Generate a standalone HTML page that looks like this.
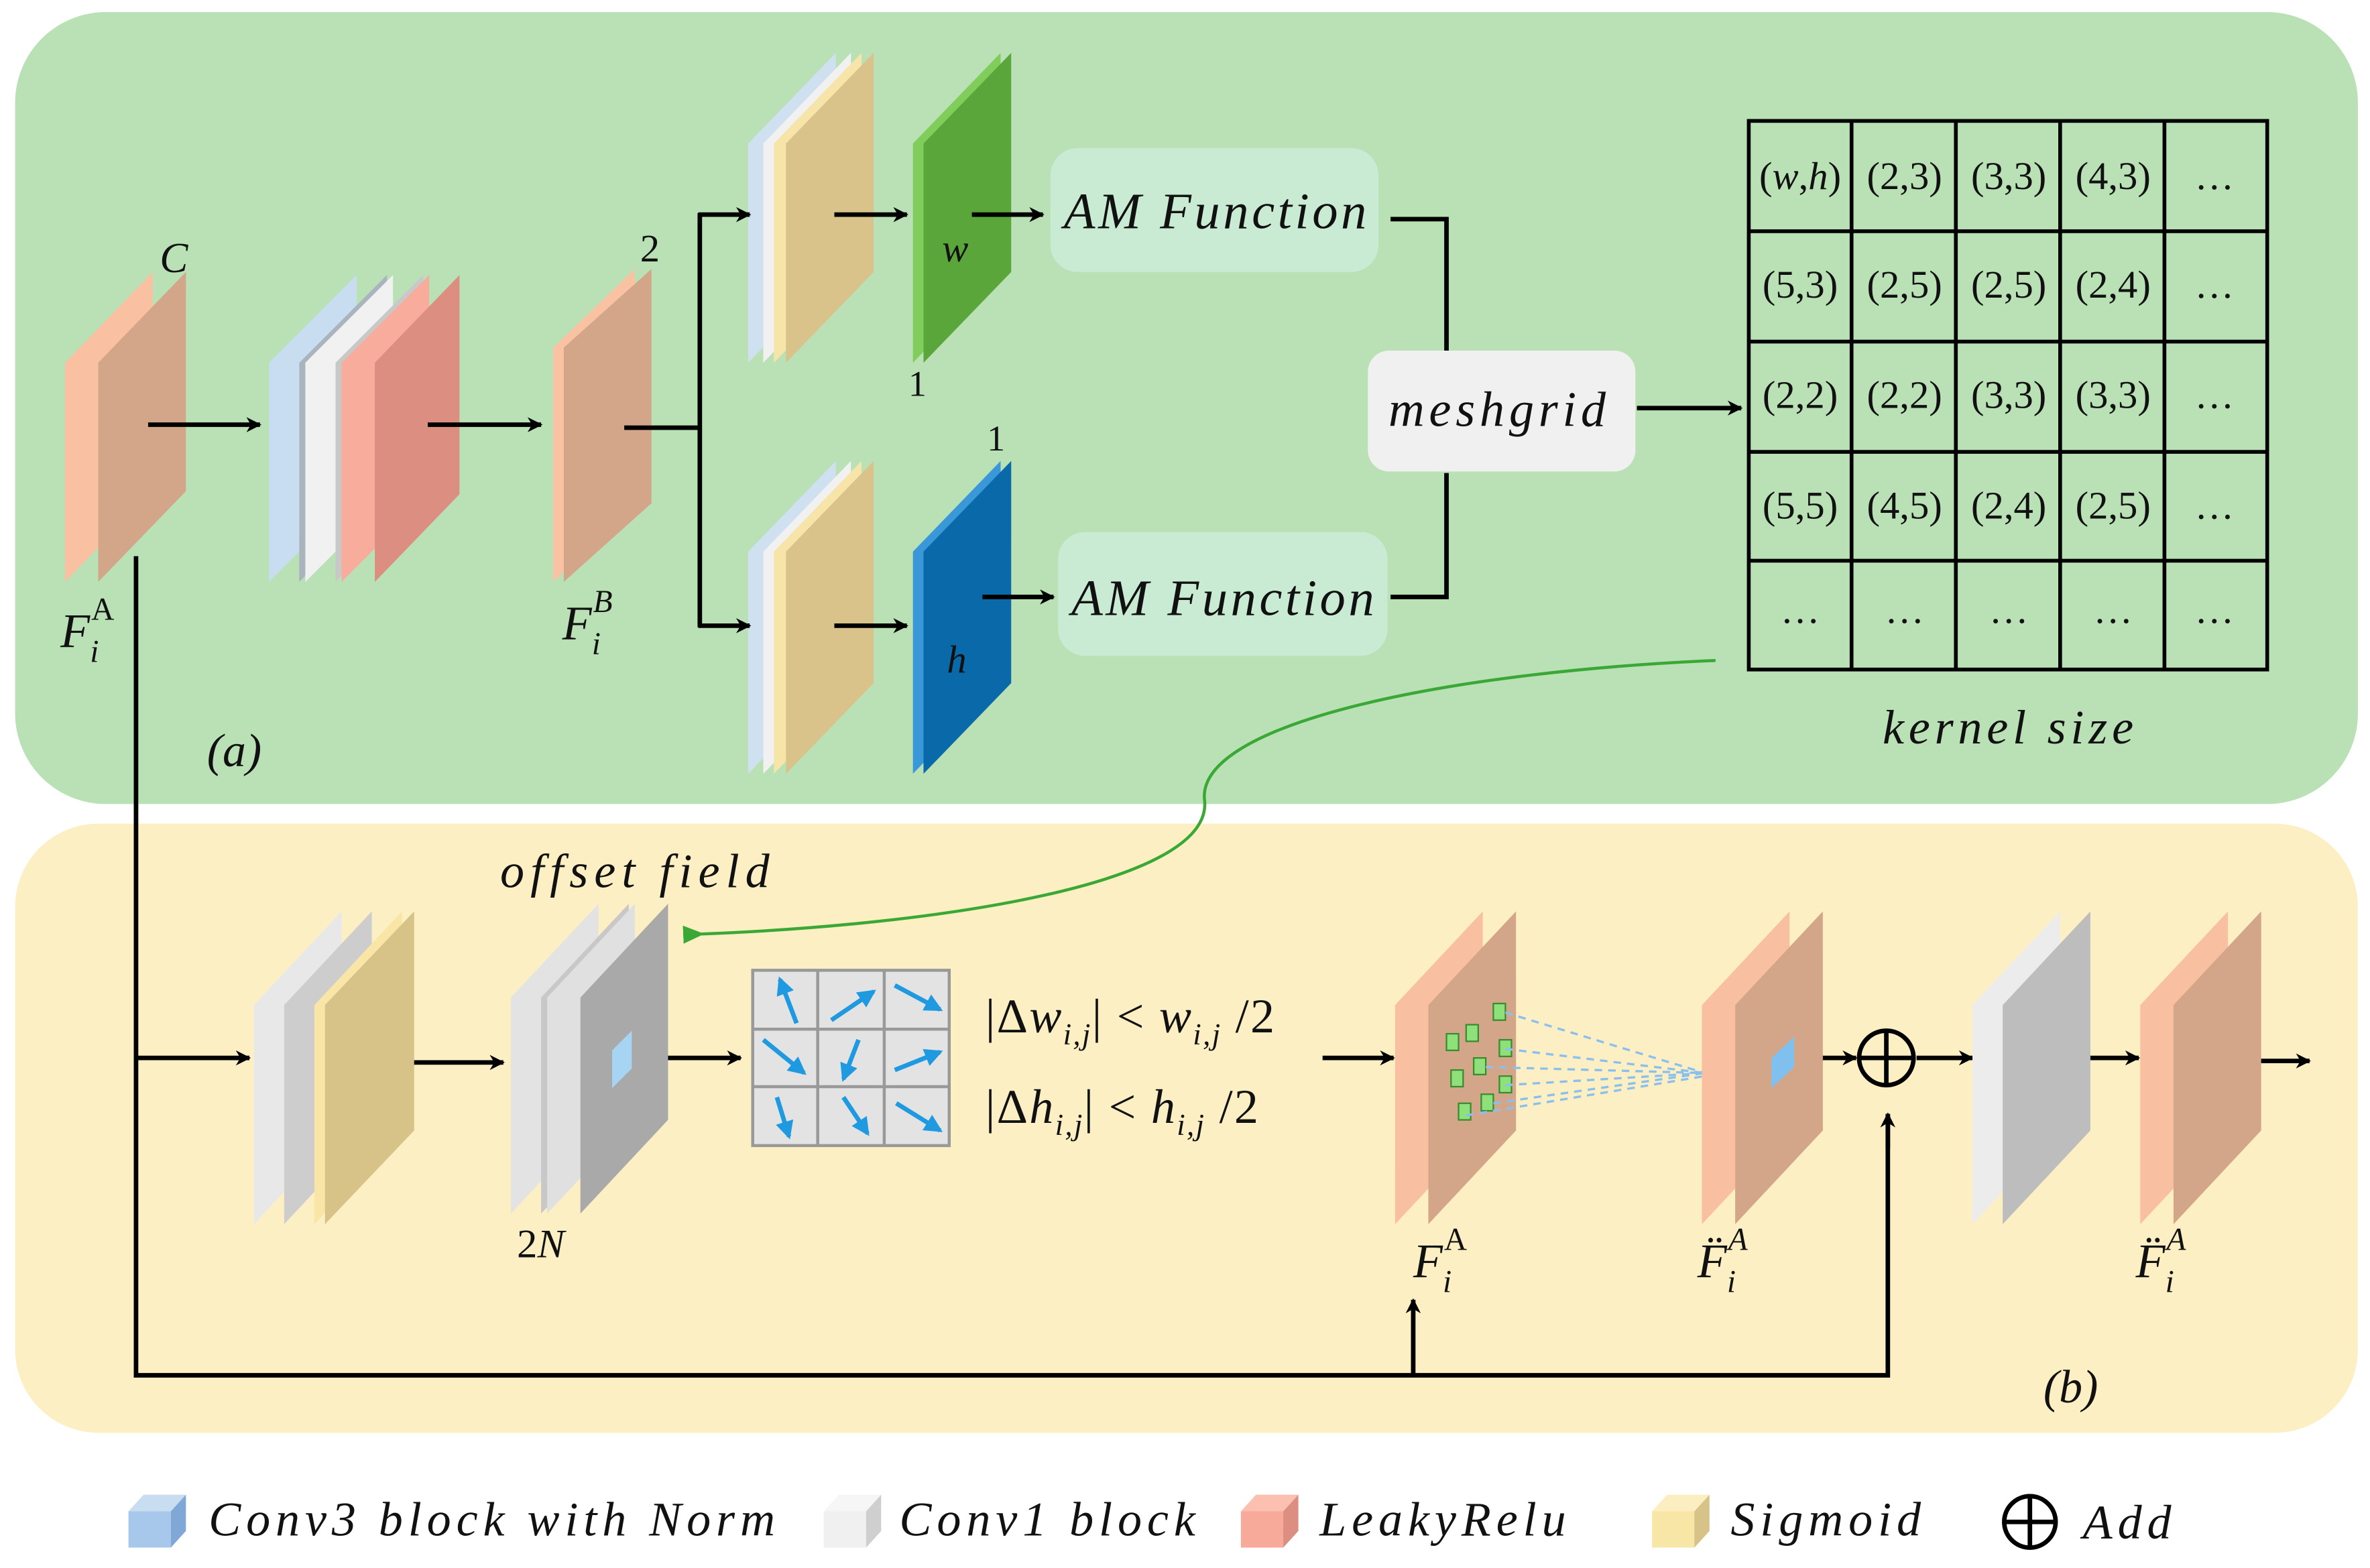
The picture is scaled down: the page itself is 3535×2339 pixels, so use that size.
<!DOCTYPE html>
<html><head><meta charset="utf-8"><style>
html,body{margin:0;padding:0;background:#fff;}
svg{display:block;}
text{font-family:"Liberation Serif",serif;font-style:italic;fill:#111;}
.n{font-style:normal;}
</style></head><body>
<svg width="3535" height="2339" viewBox="0 0 1568 1037.5" preserveAspectRatio="none" xmlns="http://www.w3.org/2000/svg">
<defs>
<marker id="ar" markerWidth="10" markerHeight="10" refX="9" refY="5" orient="auto" markerUnits="userSpaceOnUse"><path d="M0,0 L10,5 L0,10 L3,5 z" fill="#000"/></marker>
<marker id="ag" markerWidth="14" markerHeight="12" refX="2" refY="6" orient="auto" markerUnits="userSpaceOnUse"><path d="M14,0 L0,6 L14,12 z" fill="#3aa835"/></marker>
<marker id="ab" markerWidth="12" markerHeight="12" refX="10" refY="6" orient="auto" markerUnits="userSpaceOnUse"><path d="M0,0 L12,6 L0,12 z" fill="#1f9ae0"/></marker>
</defs>
<rect x="0" y="0" width="1568" height="1040" fill="#fff"/>
<rect x="10" y="8" width="1550" height="524" rx="60" fill="#b9e1b5"/>
<rect x="10" y="545" width="1550" height="403" rx="55" fill="#fdefc4"/>

<polygon points="43,240 101,180 101,325 43,385" fill="#f9c0a2"/>
<polygon points="65,240 123,180 123,325 65,385" fill="#d4a689"/>
<polygon points="178,240 236,182 236,327 178,385" fill="#c9ddf0"/>
<polygon points="198,240 256,182 256,327 198,385" fill="#a9b4bf"/>
<polygon points="202,240 260,182 260,327 202,385" fill="#f1f1f1"/>
<polygon points="222,240 280,182 280,327 222,385" fill="#c8c8c8"/>
<polygon points="226,240 284,182 284,327 226,385" fill="#f8ad9c"/>
<polygon points="248,240 304,182 304,327 248,385" fill="#dc8e81"/>
<polygon points="366,230 420,178 420,333 366,385" fill="#f9c2a3"/>
<polygon points="373,230 431,178 431,333 373,385" fill="#d4a689"/>
<polygon points="495,95 553,35 553,180 495,240" fill="#cfe0f0"/>
<polygon points="505,95 563,35 563,180 505,240" fill="#f1f1f1"/>
<polygon points="512,95 570,35 570,180 512,240" fill="#f6e4a9"/>
<polygon points="520,95 578,35 578,180 520,240" fill="#d9c38b"/>
<polygon points="604,95 662,35 662,180 604,240" fill="#80cd5c"/>
<polygon points="611,95 669,35 669,180 611,240" fill="#5aa63a"/>
<polygon points="495,365 553,305 553,452 495,512" fill="#cfe0f0"/>
<polygon points="505,365 563,305 563,452 505,512" fill="#f1f1f1"/>
<polygon points="512,365 570,305 570,452 512,512" fill="#f6e4a9"/>
<polygon points="520,365 578,305 578,452 520,512" fill="#d9c38b"/>
<polygon points="604,365 662,305 662,452 604,512" fill="#3a98d8"/>
<polygon points="611,365 669,305 669,452 611,512" fill="#0a69a8"/>

<g stroke="#000" stroke-width="3" fill="none">
<line x1="98" y1="281" x2="172" y2="281" marker-end="url(#ar)"/>
<line x1="283" y1="281" x2="358" y2="281" marker-end="url(#ar)"/>
<polyline points="413,283 463,283"/>
<line x1="463" y1="141" x2="463" y2="415"/>
<line x1="462" y1="142" x2="496" y2="142" marker-end="url(#ar)"/>
<line x1="462" y1="414" x2="496" y2="414" marker-end="url(#ar)"/>
<line x1="552" y1="142" x2="600" y2="142" marker-end="url(#ar)"/>
<line x1="552" y1="414" x2="600" y2="414" marker-end="url(#ar)"/>
<line x1="643" y1="142" x2="690" y2="142" marker-end="url(#ar)"/>
<line x1="650" y1="395" x2="697" y2="395" marker-end="url(#ar)"/>
<polyline points="920,145 957,145 957,232"/>
<polyline points="920,395 957,395 957,313"/>
<line x1="1083" y1="270" x2="1152" y2="270" marker-end="url(#ar)"/>
</g>
<rect x="695" y="98" width="217" height="82" rx="18" fill="#c9ebd4"/>
<rect x="700" y="352" width="218" height="82" rx="18" fill="#c9ebd4"/>
<text x="805" y="151" font-size="34" text-anchor="middle" letter-spacing="2">AM Function</text>
<text x="810" y="407" font-size="34" text-anchor="middle" letter-spacing="2">AM Function</text>
<rect x="905" y="232" width="177" height="80" rx="14" fill="#f0f0f0"/>
<text x="992" y="282" font-size="33" text-anchor="middle" letter-spacing="3">meshgrid</text>

<g stroke="#000" stroke-width="2.5" fill="none">
<rect x="1157" y="80" width="343" height="363"/>
<line x1="1225" y1="80" x2="1225" y2="443"/><line x1="1294" y1="80" x2="1294" y2="443"/>
<line x1="1363" y1="80" x2="1363" y2="443"/><line x1="1432" y1="80" x2="1432" y2="443"/>
<line x1="1157" y1="153" x2="1500" y2="153"/><line x1="1157" y1="226" x2="1500" y2="226"/>
<line x1="1157" y1="299" x2="1500" y2="299"/><line x1="1157" y1="371" x2="1500" y2="371"/>
</g>
<g font-size="26" text-anchor="middle">
<text class="n" x="1191" y="125">(<tspan font-style="italic">w</tspan>,<tspan font-style="italic">h</tspan>)</text>
<text class="n" x="1260" y="125">(2,3)</text><text class="n" x="1329" y="125">(3,3)</text><text class="n" x="1398" y="125">(4,3)</text><text class="n" x="1465" y="125">…</text>
<text class="n" x="1191" y="197">(5,3)</text><text class="n" x="1260" y="197">(2,5)</text><text class="n" x="1329" y="197">(2,5)</text><text class="n" x="1398" y="197">(2,4)</text><text class="n" x="1465" y="197">…</text>
<text class="n" x="1191" y="270">(2,2)</text><text class="n" x="1260" y="270">(2,2)</text><text class="n" x="1329" y="270">(3,3)</text><text class="n" x="1398" y="270">(3,3)</text><text class="n" x="1465" y="270">…</text>
<text class="n" x="1191" y="343">(5,5)</text><text class="n" x="1260" y="343">(4,5)</text><text class="n" x="1329" y="343">(2,4)</text><text class="n" x="1398" y="343">(2,5)</text><text class="n" x="1465" y="343">…</text>
<text class="n" x="1191" y="412">…</text><text class="n" x="1260" y="412">…</text><text class="n" x="1329" y="412">…</text><text class="n" x="1398" y="412">…</text><text class="n" x="1465" y="412">…</text>
</g>
<text x="1330" y="492" font-size="32" text-anchor="middle" letter-spacing="3">kernel size</text>
<text x="155" y="507" font-size="31" text-anchor="middle">(a)</text>
<text x="115" y="180" font-size="28" text-anchor="middle">C</text>
<text class="n" x="430" y="173" font-size="26" text-anchor="middle">2</text>
<text class="n" x="607" y="262" font-size="24" text-anchor="middle">1</text>
<text class="n" x="659" y="298" font-size="24" text-anchor="middle">1</text>
<text x="632" y="173" font-size="26" text-anchor="middle">w</text>
<text x="633" y="445" font-size="26" text-anchor="middle">h</text>
<text x="40" y="428" font-size="32">F<tspan font-size="21" dy="10">i</tspan><tspan font-style="normal" font-size="21" dx="-5" dy="-28">A</tspan></text>
<text x="372" y="423" font-size="32">F<tspan font-size="21" dy="10">i</tspan><tspan font-size="21" dx="-5" dy="-28">B</tspan></text>

<path d="M1135,437 C950,445 790,480 797,530 C802,585 620,612 464,618" stroke="#3aa835" stroke-width="2" fill="none" marker-end="url(#ag)"/>

<g stroke="#000" stroke-width="3" fill="none">
<polyline points="90,368 90,910 1249,910 1249,738" />
<line x1="1249" y1="760" x2="1249" y2="737" marker-end="url(#ar)"/>
<line x1="935" y1="910" x2="935" y2="860" marker-end="url(#ar)"/>
<line x1="90" y1="700" x2="165" y2="700" marker-end="url(#ar)"/>
<line x1="255" y1="703" x2="333" y2="703" marker-end="url(#ar)"/>
<line x1="412" y1="700" x2="490" y2="700" marker-end="url(#ar)"/>
<line x1="875" y1="700" x2="922" y2="700" marker-end="url(#ar)"/>
<line x1="1185" y1="700" x2="1228" y2="700" marker-end="url(#ar)"/>
<line x1="1268" y1="700" x2="1305" y2="700" marker-end="url(#ar)"/>
<line x1="1360" y1="700" x2="1415" y2="700" marker-end="url(#ar)"/>
<line x1="1478" y1="702" x2="1528" y2="702" marker-end="url(#ar)"/>
</g>
<polygon points="168,665 226,603 226,748 168,810" fill="#e8e8e8"/>
<polygon points="188,665 246,603 246,748 188,810" fill="#cdcdcd"/>
<polygon points="208,665 266,603 266,748 208,810" fill="#f9e6a6"/>
<polygon points="215,665 274,603 274,748 215,810" fill="#d7c287"/>
<polygon points="338,660 396,598 396,741 338,803" fill="#e3e3e3"/>
<polygon points="358,660 416,598 416,741 358,803" fill="#c8c8c8"/>
<polygon points="362,660 420,598 420,741 362,803" fill="#e0e0e0"/>
<polygon points="384,660 442,598 442,741 384,803" fill="#a9a9a9"/>
<polygon points="405,695 418,682 418,707 405,720" fill="#a8d4f4"/>

<rect x="498" y="642" width="130" height="116" fill="#e3e3e3" stroke="#999" stroke-width="2"/>
<g stroke="#999" stroke-width="2"><line x1="541" y1="642" x2="541" y2="758"/><line x1="585" y1="642" x2="585" y2="758"/><line x1="498" y1="681" x2="628" y2="681"/><line x1="498" y1="719" x2="628" y2="719"/></g>
<g stroke="#1f9ae0" stroke-width="3" marker-end="url(#ab)">
<line x1="527" y1="677" x2="516" y2="648"/><line x1="550" y1="675" x2="578" y2="656"/><line x1="592" y1="652" x2="622" y2="668"/>
<line x1="505" y1="688" x2="532" y2="710"/><line x1="568" y1="688" x2="558" y2="714"/><line x1="592" y1="708" x2="622" y2="696"/>
<line x1="514" y1="726" x2="522" y2="752"/><line x1="558" y1="726" x2="574" y2="750"/><line x1="593" y1="730" x2="622" y2="748"/>
</g>
<text class="n" x="652" y="683" font-size="32" letter-spacing="1">|Δ<tspan font-style="italic">w</tspan><tspan font-style="italic" font-size="20" dy="8">i,j</tspan><tspan dy="-8">| &lt; </tspan><tspan font-style="italic">w</tspan><tspan font-style="italic" font-size="20" dy="8">i,j</tspan><tspan dy="-8"> /2</tspan></text>
<text class="n" x="652" y="743" font-size="32" letter-spacing="1">|Δ<tspan font-style="italic">h</tspan><tspan font-style="italic" font-size="20" dy="8">i,j</tspan><tspan dy="-8">| &lt; </tspan><tspan font-style="italic">h</tspan><tspan font-style="italic" font-size="20" dy="8">i,j</tspan><tspan dy="-8"> /2</tspan></text>

<polygon points="923,665 981,603 981,748 923,810" fill="#f9bfa1"/>
<polygon points="945,665 1003,603 1003,748 945,810" fill="#d4a689"/>
<g fill="#8ee07a" stroke="#3a8a30" stroke-width="1">
<rect x="957" y="684" width="8" height="11"/><rect x="970" y="678" width="8" height="11"/><rect x="988" y="664" width="8" height="11"/>
<rect x="960" y="708" width="8" height="11"/><rect x="975" y="700" width="8" height="11"/><rect x="992" y="688" width="8" height="11"/>
<rect x="965" y="730" width="8" height="11"/><rect x="980" y="724" width="8" height="11"/><rect x="992" y="712" width="8" height="11"/>
</g>
<g stroke="#8cc0ec" stroke-width="1.5" stroke-dasharray="5,4">
<line x1="996" y1="670" x2="1128" y2="710"/><line x1="996" y1="694" x2="1128" y2="710"/><line x1="996" y1="718" x2="1128" y2="710"/>
<line x1="983" y1="706" x2="1128" y2="710"/><line x1="988" y1="730" x2="1128" y2="710"/><line x1="970" y1="738" x2="1128" y2="712"/>
</g>
<polygon points="1126,665 1184,603 1184,748 1126,810" fill="#f9bfa1"/>
<polygon points="1148,665 1206,603 1206,748 1148,810" fill="#d4a689"/>
<polygon points="1172,700 1187,686 1187,706 1172,720" fill="#7fc0ee"/>
<circle cx="1248" cy="700" r="18" fill="none" stroke="#000" stroke-width="3"/>
<line x1="1230" y1="700" x2="1266" y2="700" stroke="#000" stroke-width="3"/><line x1="1248" y1="682" x2="1248" y2="718" stroke="#000" stroke-width="3"/>
<polygon points="1305,665 1363,603 1363,748 1305,810" fill="#ececec"/>
<polygon points="1325,665 1383,603 1383,748 1325,810" fill="#bdbdbd"/>
<polygon points="1416,665 1474,603 1474,748 1416,810" fill="#f9bfa1"/>
<polygon points="1438,665 1496,603 1496,748 1438,810" fill="#d4a689"/>

<text x="422" y="587" font-size="32" text-anchor="middle" letter-spacing="4">offset field</text>
<text class="n" x="342" y="832" font-size="27">2<tspan font-style="italic">N</tspan></text>
<text x="935" y="845" font-size="32">F<tspan font-size="21" dy="10">i</tspan><tspan font-style="normal" font-size="21" dx="-5" dy="-28">A</tspan></text>
<text x="1123" y="845" font-size="32">F̈<tspan font-size="21" dy="10">i</tspan><tspan font-size="21" dx="-5" dy="-28">A</tspan></text>
<text x="1413" y="845" font-size="32">F̈<tspan font-size="21" dy="10">i</tspan><tspan font-size="21" dx="-5" dy="-28">A</tspan></text>
<text x="1370" y="928" font-size="31" text-anchor="middle">(b)</text>

<g>
<polygon points="85,1000 95,989 123,989 113,1000" fill="#c9ddf0"/><rect x="85" y="1000" width="28" height="24" fill="#a7c8ea"/><polygon points="113,1000 123,989 123,1013 113,1024" fill="#7fa8d6"/>
<polygon points="545,1000 555,989 583,989 573,1000" fill="#f6f6f6"/><rect x="545" y="1000" width="28" height="24" fill="#f0f0f0"/><polygon points="573,1000 583,989 583,1013 573,1024" fill="#cfcfcf"/>
<polygon points="821,1000 831,989 859,989 849,1000" fill="#fbc0b0"/><rect x="821" y="1000" width="28" height="24" fill="#f7a99a"/><polygon points="849,1000 859,989 859,1013 849,1024" fill="#dc8e81"/>
<polygon points="1093,1000 1103,989 1131,989 1121,1000" fill="#fbeec0"/><rect x="1093" y="1000" width="28" height="24" fill="#f8e6a6"/><polygon points="1121,1000 1131,989 1131,1013 1121,1024" fill="#d7c287"/>
<circle cx="1343" cy="1007" r="17" fill="none" stroke="#000" stroke-width="3"/>
<line x1="1326" y1="1007" x2="1360" y2="1007" stroke="#000" stroke-width="3"/><line x1="1343" y1="990" x2="1343" y2="1024" stroke="#000" stroke-width="3"/>
</g>
<g font-size="32" letter-spacing="3.5">
<text x="138" y="1016">Conv3 block with Norm</text>
<text x="595" y="1016">Conv1 block</text>
<text x="873" y="1016">LeakyRelu</text>
<text x="1145" y="1016">Sigmoid</text>
<text x="1378" y="1018">Add</text>
</g>
</svg>
</body></html>
